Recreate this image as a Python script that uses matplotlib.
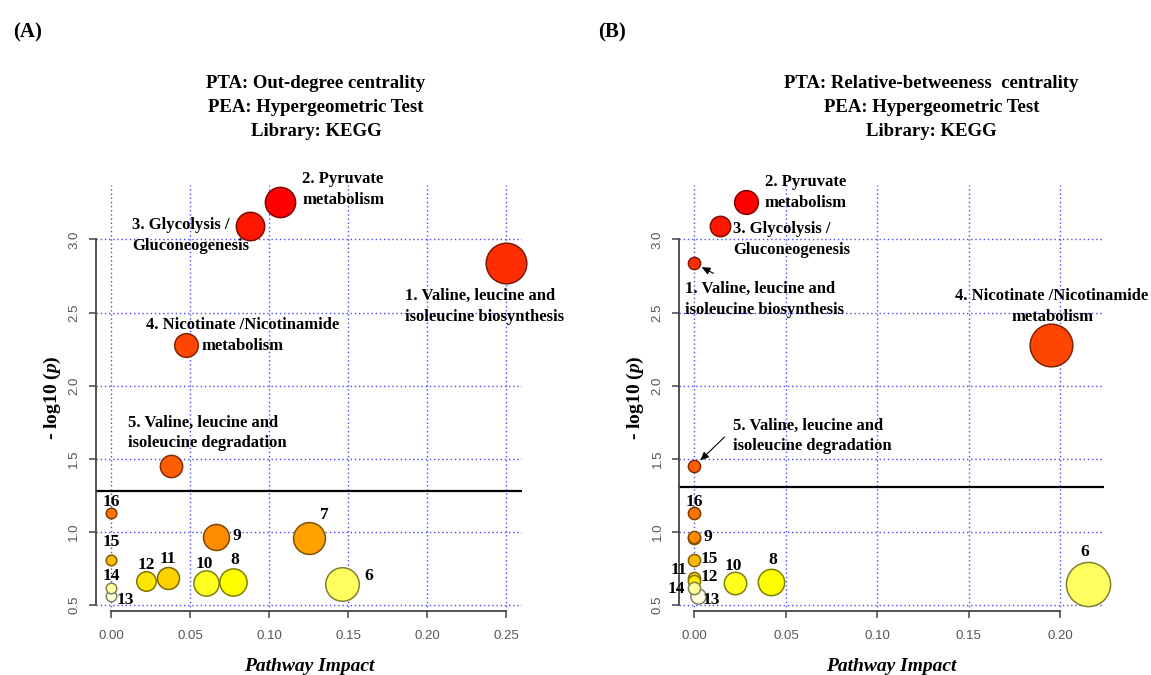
import numpy as np
import matplotlib
matplotlib.use("Agg")
import matplotlib.pyplot as plt
from matplotlib.colors import hsv_to_rgb

plt.rcParams['font.family'] = ['Liberation Serif', 'DejaVu Serif']
plt.rcParams['mathtext.fontset'] = 'custom'
plt.rcParams['mathtext.rm'] = 'Liberation Serif:bold'
plt.rcParams['mathtext.bfit'] = 'Liberation Serif:italic:bold'
plt.rcParams['mathtext.it'] = 'Liberation Serif:italic:bold'

# pathway ids 1..16, shared -log10(p) from the enrichment test
pathway_ids = list(range(1, 17))
neg_log_p = [2.836, 3.257, 3.094, 2.275, 1.451, 0.648, 0.962, 0.661,
             0.964, 0.651, 0.684, 0.663, 0.566, 0.620, 0.809, 1.130]

# pathway impact under each topology measure
impact_out_degree = [0.250, 0.107, 0.088, 0.047, 0.038, 0.146, 0.125, 0.077,
                     0.066, 0.060, 0.036, 0.022, 0.0, 0.0, 0.0, 0.0]
impact_betweenness = [0.0, 0.028, 0.014, 0.195, 0.0, 0.215, 0.0, 0.042,
                      0.0, 0.022, 0.0, 0.0, 0.002, 0.0, 0.0, 0.0]

cutoff_a = 1.28
cutoff_b = 1.305

names = {
    1: "1. Valine, leucine and\nisoleucine biosynthesis",
    2: "2. Pyruvate\nmetabolism",
    3: "3. Glycolysis /\nGluconeogenesis",
    4: "4. Nicotinate /Nicotinamide\nmetabolism",
    5: "5. Valine, leucine and\nisoleucine degradation",
}

titles_a = "PTA: Out-degree centrality\nPEA: Hypergeometric Test\nLibrary: KEGG"
titles_b = "PTA: Relative-betweeness  centrality\nPEA: Hypergeometric Test\nLibrary: KEGG"


def heat_colors(n):
    # same ramp as R's heat.colors()
    j = n // 4
    i = n - j
    cols = [hsv_to_rgb(((k / (i - 1)) * (1 / 6), 1, 1)) for k in range(i)]
    for s in np.linspace(1 - 1 / (2 * j), 1 / (2 * j), j):
        cols.append(hsv_to_rgb((1 / 6, s, 1)))
    return cols


order = np.argsort(-np.array(neg_log_p), kind='stable')
palette = heat_colors(len(neg_log_p))
fill = [None] * len(neg_log_p)
for rank, idx in enumerate(order):
    fill[idx] = palette[rank]
edge = [tuple(np.array(c) * 0.5) for c in fill]

# label placement: (dx, dy) in pixels from the bubble centre, alignment
labels_a = {
    1: (-101, -43, 'left'), 2: (22, 12, 'left'), 3: (-118, -10, 'left'),
    4: (57, 10, 'center'), 5: (-43, 33, 'left'),
    6: (27, 8, 'center'), 7: (15, 23, 'center'), 8: (2, 22, 'center'),
    9: (21, 1, 'center'), 10: (-2, 19, 'center'), 11: (0, 19, 'center'),
    12: (0, 16, 'center'), 13: (14, -4, 'center'), 14: (0, 12, 'center'),
    15: (0, 18, 'center'), 16: (0, 11, 'center'),
}
labels_b = {
    1: (-9, -36, 'left'), 2: (60, 9, 'center'), 3: (13, -14, 'left'),
    4: (1, 39, 'center'), 5: (39, 30, 'left'),
    6: (-3, 32, 'center'), 8: (2, 22, 'center'), 9: (13, 0, 'center'),
    10: (-1, 17, 'center'), 11: (-16, 8, 'center'), 12: (15, 4, 'center'),
    13: (13, -4, 'center'), 14: (-18, -1, 'center'), 15: (15, 1, 'center'),
    16: (0, 11, 'center'),
}
arrows_b = {1: (19, -10), 5: (30, 29)}


def panel(ax, impact, r0, k, xticks, xlim, cutoff, labels, arrows):
    x = np.array(impact)
    y = np.array(neg_log_p)
    r_px = r0 + k * np.sqrt(x)
    size = (2 * r_px * 0.72) ** 2
    draw = sorted(range(len(x)), key=lambda i: (i != 6, -r_px[i]))
    for i in draw:
        ax.scatter(x[i], y[i], s=size[i], color=fill[i], edgecolors=[edge[i]],
                   linewidths=1.1, zorder=3, clip_on=False)
    ax.axhline(cutoff, color='black', lw=1.6, zorder=2)

    for pid, (dx, dy, ha) in labels.items():
        i = pid - 1
        txt = names.get(pid, str(pid))
        fs = 12 if pid in names else 12.5
        ax.annotate(txt, xy=(x[i], y[i]), xytext=(dx, dy),
                    textcoords='offset pixels', ha=ha, va='center',
                    fontsize=fs, fontweight='bold', linespacing=1.38,
                    zorder=4, annotation_clip=False)
    for pid, (dx, dy) in arrows.items():
        i = pid - 1
        ax.annotate('', xy=(x[i], y[i]), xytext=(dx, dy),
                    textcoords='offset pixels',
                    arrowprops=dict(arrowstyle='-|>,head_length=0.5,head_width=0.22',
                                    color='black', lw=0.8, shrinkA=0,
                                    shrinkB=(r_px[i] + 2) * 0.72),
                    zorder=4)

    ax.set_xlim(*xlim)
    ax.set_ylim(0.461, 3.371)
    ax.set_xticks(xticks)
    ax.set_xticklabels(['%.2f' % t for t in xticks], fontfamily='Liberation Sans')
    yt = [0.5, 1.0, 1.5, 2.0, 2.5, 3.0]
    ax.set_yticks(yt)
    ax.set_yticklabels(['%.1f' % t for t in yt], rotation=90, va='center',
                       fontfamily='Liberation Sans')
    ax.grid(True, color='#4a4aff', linestyle=(0, (1, 2)), linewidth=1.0, zorder=1)
    ax.set_axisbelow(True)
    for s in ['top', 'right']:
        ax.spines[s].set_visible(False)
    ax.spines['left'].set_bounds(0.5, 3.0)
    ax.spines['bottom'].set_bounds(xticks[0], xticks[-1])
    for s in ['left', 'bottom']:
        ax.spines[s].set_color('#444444')
        ax.spines[s].set_linewidth(1.3)
    ax.tick_params(axis='both', length=5, width=1.1, color='#444444',
                   labelcolor='#555555', labelsize=9.5)
    ax.tick_params(axis='x', pad=9)
    ax.tick_params(axis='y', pad=6)
    ax.set_xlabel('Pathway Impact', fontsize=14, fontweight='bold',
                  fontstyle='italic', labelpad=11)
    ax.set_ylabel(r'- log10 ($\mathbfit{p}$)', fontsize=14, fontweight='bold',
                  labelpad=4)


fig = plt.figure(figsize=(11.51, 6.75), dpi=100)
fig.patch.set_facecolor('white')

ax1 = fig.add_axes([0.0831, 0.0948, 0.3705, 0.6311])
panel(ax1, impact_out_degree, 5.3, 30.0, [0, 0.05, 0.10, 0.15, 0.20, 0.25],
      (-0.01, 0.26), cutoff_a, labels_a, {})

ax2 = fig.add_axes([0.5897, 0.0948, 0.3692, 0.6311])
panel(ax2, impact_betweenness, 6.1, 34.5, [0, 0.05, 0.10, 0.15, 0.20],
      (-0.0086, 0.2238), cutoff_b, labels_b, arrows_b)

fig.text(316 / 1151, 1 - 107.7 / 675, titles_a, ha='center', va='center',
         fontsize=13.5, fontweight='bold', linespacing=1.55)
fig.text(931.5 / 1151, 1 - 107.7 / 675, titles_b, ha='center', va='center',
         fontsize=13.5, fontweight='bold', linespacing=1.55)
fig.text(28 / 1151, 1 - 32 / 675, '(A)', ha='center', va='center',
         fontsize=15, fontweight='bold')
fig.text(612 / 1151, 1 - 32 / 675, '(B)', ha='center', va='center',
         fontsize=15, fontweight='bold')

fig.savefig('out.png', dpi=100)
